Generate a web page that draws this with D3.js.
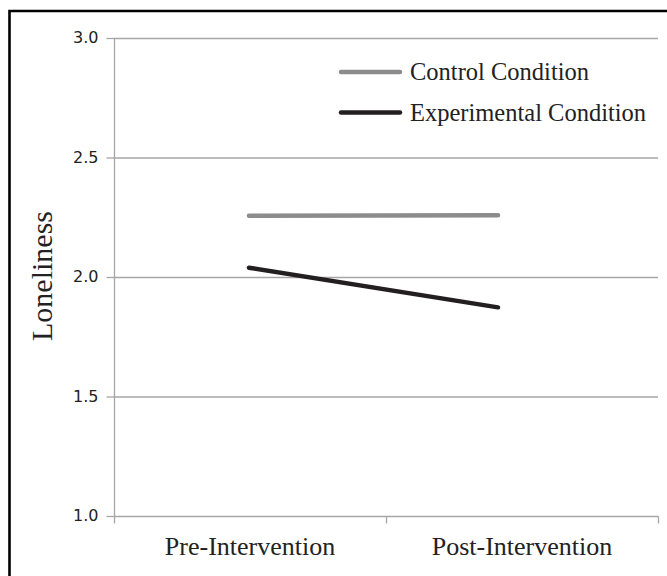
<!DOCTYPE html>
<html><head><meta charset="utf-8">
<script src="https://cdn.jsdelivr.net/npm/d3@7"></script>
<style>body{margin:0;background:#fff}svg{display:block}</style>
</head><body>
<script>
const categories = ["Pre-Intervention", "Post-Intervention"];
const seriesNames = ["Control Condition", "Experimental Condition"];
const controlValues = [2.256, 2.258];
const experimentalValues = [2.039, 1.873];
const yTicks = [1.0, 1.5, 2.0, 2.5, 3.0];
const yLabel = "Loneliness";

const W = 667, H = 576;
const svg = d3.select("body").append("svg").attr("width", W).attr("height", H);

// outer frame
svg.append("path").attr("d", `M9.5,${H} V11 H${W}`)
  .attr("fill", "none").attr("stroke", "#000").attr("stroke-width", 2.6);

const x0 = 114, x1 = 658, yTop = 38, yBot = 516;
const y = d3.scaleLinear().domain([1, 3]).range([yBot, yTop]);
const xBand = d3.scaleBand().domain(categories).range([x0, x1]);
// line points (Excel-like placement)
const xLine = d3.scaleLinear().domain([0, 1])
  .range([xBand(categories[0]) + xBand.bandwidth() / 2 - 1, xBand(categories[1]) + xBand.bandwidth() / 2 - 24]);

const grid = "#a6a6a6";
const serif = "'Liberation Serif', 'Times New Roman', serif";
// gridlines
svg.append("g").selectAll("line").data(yTicks.filter(t => t > 1)).join("line")
  .attr("x1", x0).attr("x2", x1).attr("y1", d => y(d) + 0.5).attr("y2", d => y(d) + 0.5)
  .attr("stroke", grid).attr("stroke-width", 1.3);

// y axis
const yAxis = svg.append("g").attr("transform", `translate(${x0 + 0.5},0)`)
  .call(d3.axisLeft(y).tickValues(yTicks).tickFormat(d3.format(".1f")).tickSize(8).tickPadding(8));
yAxis.attr("font-size", null).attr("font-family", null);
yAxis.select(".domain").attr("stroke", grid).attr("stroke-width", 1.3).attr("d", `M0,${yTop} V${yBot + 0.5}`);
yAxis.selectAll(".tick line").attr("stroke", grid).attr("stroke-width", 1.3);
yAxis.selectAll(".tick text").style("font-family", "'DejaVu Sans', sans-serif").style("font-size", "16px").attr("fill", "#222").attr("dy", "0.3em");

// x axis
const xAxis = svg.append("g").attr("transform", `translate(0,${yBot + 0.5})`)
  .call(d3.axisBottom(xBand).tickSize(0).tickPadding(20));
xAxis.attr("font-size", null).attr("font-family", null);
xAxis.select(".domain").remove();
xAxis.append("line").attr("x1", x0).attr("x2", x1 + 0.5).attr("stroke", grid).attr("stroke-width", 1.3);
xAxis.selectAll(".xt").data([x0, (x0 + x1) / 2, x1]).join("line").attr("class", "xt")
  .attr("x1", d => d + 0.5).attr("x2", d => d + 0.5).attr("y1", 0).attr("y2", 7)
  .attr("stroke", grid).attr("stroke-width", 1.3);
xAxis.selectAll(".tick text").style("font-family", serif)
  .style("font-size", "26px").attr("fill", "#222").attr("dy", "0.71em");

// y label
svg.append("text").attr("transform", `translate(52,276) rotate(-90)`)
  .attr("text-anchor", "middle").style("font-family", serif)
  .style("font-size", "30px").attr("fill", "#222").text(yLabel);

const colors = ["#8c8c8c", "#231f20"];
const series = [controlValues, experimentalValues];
const line = d3.line().x((d, i) => xLine(i)).y(d => y(d));
svg.append("g").selectAll("path").data(series).join("path")
  .attr("d", line).attr("fill", "none")
  .attr("stroke", (d, i) => colors[i]).attr("stroke-width", 4.5).attr("stroke-linecap", "round");

// legend
const leg = svg.append("g").selectAll("g").data(seriesNames).join("g")
  .attr("transform", (d, i) => `translate(340,${72 + i * 40.5})`);
leg.append("line").attr("x1", 1).attr("x2", 60).attr("stroke", (d, i) => colors[i])
  .attr("stroke-width", 4.5).attr("stroke-linecap", "round");
leg.append("text").attr("x", 70).attr("y", 8).text(d => d)
  .style("font-family", serif).style("font-size", "24.5px").attr("fill", "#222");
</script>
</body></html>
